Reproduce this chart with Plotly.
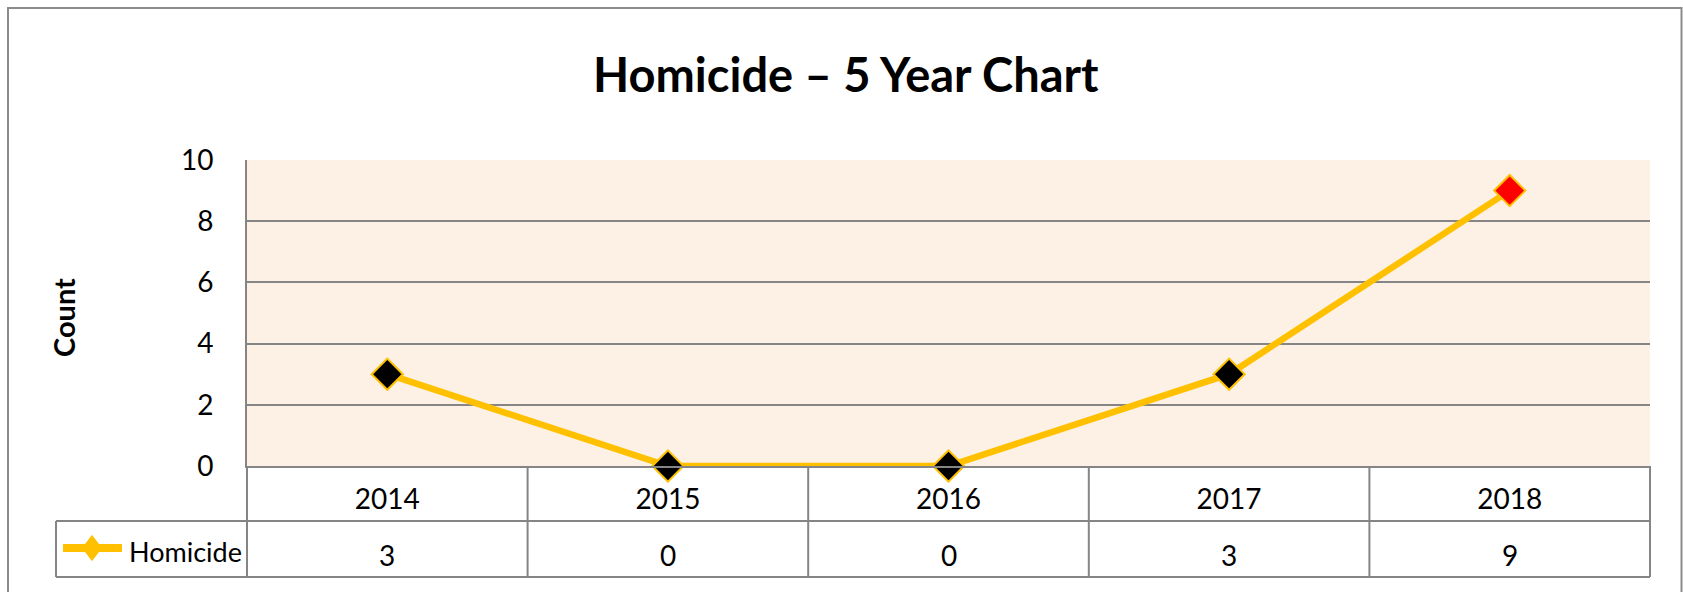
import plotly.graph_objects as go

# ---- data ----
years = ["2014", "2015", "2016", "2017", "2018"]
homicide = [3, 0, 0, 3, 9]
series_name = "Homicide"
title_text = "Homicide \u2013 5 Year Chart"
y_title = "Count"

# ---- styles ----
W, H = 1683, 592
PL, PR, PT, PB = 247, 1650, 160, 466
GOLD = "#FFC000"
GRID = "#858585"
BG = "#FDF1E5"
FONT = "Lato, Carlito, Calibri, sans-serif"


def px_x(px):
    return (px - PL) / (PR - PL)


def px_y(py):
    return (PB - py) / (PB - PT)


marker_colors = ["#FF0000" if y == years[-1] else "#000000" for y in years]

fig = go.Figure()
fig.add_trace(go.Scatter(
    x=years, y=homicide, mode="lines+markers", name=series_name,
    line=dict(color=GOLD, width=6.5),
    marker=dict(symbol="diamond", size=24, color=marker_colors,
                line=dict(color=GOLD, width=2)),
    cliponaxis=False, showlegend=False, hoverinfo="skip",
))

shapes = []
# outer frame
shapes.append(dict(type="rect", xref="paper", yref="paper",
                   x0=px_x(8), x1=px_x(1681.5), y0=px_y(610), y1=px_y(8),
                   line=dict(color="#8C8C8C", width=2), layer="below"))
# data table horizontal lines
row_mid = px_y(521)
row_bot = px_y(577)
for yy in (row_mid, row_bot):
    shapes.append(dict(type="line", xref="paper", yref="paper",
                       x0=px_x(56), x1=1, y0=yy, y1=yy,
                       line=dict(color=GRID, width=2)))
# vertical dividers between categories (data coords)
for i in range(1, len(years)):
    shapes.append(dict(type="line", xref="x", yref="paper",
                       x0=i - 0.5, x1=i - 0.5, y0=0, y1=row_bot,
                       line=dict(color=GRID, width=2)))
# table edges
for xx in (0, 1):
    shapes.append(dict(type="line", xref="paper", yref="paper",
                       x0=xx, x1=xx, y0=0, y1=row_bot,
                       line=dict(color=GRID, width=2)))
shapes.append(dict(type="line", xref="paper", yref="paper",
                   x0=px_x(56), x1=px_x(56), y0=row_mid, y1=row_bot,
                   line=dict(color=GRID, width=2)))
# legend key (line + diamond)
ly = px_y(548)
shapes.append(dict(type="line", xref="paper", yref="paper",
                   x0=px_x(63), x1=px_x(122), y0=ly, y1=ly,
                   line=dict(color=GOLD, width=8)))
cx, cy = 92, 548
dx, dy = 9.5, 12.5
path = "M {} {} L {} {} L {} {} L {} {} Z".format(
    px_x(cx - dx), px_y(cy), px_x(cx), px_y(cy - dy),
    px_x(cx + dx), px_y(cy), px_x(cx), px_y(cy + dy))
shapes.append(dict(type="path", xref="paper", yref="paper", path=path,
                   fillcolor=GOLD, line=dict(color=GOLD, width=1)))

annotations = []
for i, v in enumerate(homicide):
    annotations.append(dict(x=i, xref="x", y=px_y(555), yref="paper",
                            text=str(v), showarrow=False,
                            font=dict(size=28, color="black", family=FONT),
                            xanchor="center", yanchor="middle"))
annotations.append(dict(x=px_x(127), xref="paper", y=px_y(551), yref="paper",
                        text=series_name, showarrow=False,
                        font=dict(size=27, color="black", family=FONT),
                        xanchor="left", yanchor="middle"))
annotations.append(dict(x=px_x(63), xref="paper", y=px_y(318), yref="paper",
                        text="<b>" + y_title + "</b>", showarrow=False, textangle=-90,
                        font=dict(size=29, color="black", family=FONT),
                        xanchor="center", yanchor="middle"))
annotations.append(dict(x=px_x(846), xref="paper", y=px_y(74), yref="paper",
                        text="<b>" + title_text + "</b>", showarrow=False,
                        font=dict(size=47, color="black", family=FONT),
                        xanchor="center", yanchor="middle"))

fig.update_layout(
    width=W, height=H,
    margin=dict(l=PL, r=W - PR, t=PT, b=H - PB, pad=0),
    paper_bgcolor="white", plot_bgcolor=BG,
    shapes=shapes, annotations=annotations,
    font=dict(family=FONT, color="black"),
    hovermode=False,
    xaxis=dict(type="category", range=[-0.5, len(years) - 0.5],
               showgrid=False, zeroline=False, showline=True,
               linecolor=GRID, linewidth=2, ticks="",
               tickfont=dict(size=28, family=FONT, color="black"),
               ticklabelstandoff=7, fixedrange=True),
    yaxis=dict(range=[0, 10], dtick=2, tick0=0,
               showgrid=True, gridcolor=GRID, gridwidth=2,
               zeroline=False, showline=True, linecolor=GRID, linewidth=2,
               ticks="", tickfont=dict(size=28, family=FONT, color="black"),
               ticklabelstandoff=26, fixedrange=True),
)

fig.write_html("out.html", config={"displayModeBar": False},
               post_script="document.body.style.margin='0';document.body.style.overflow='hidden';")
